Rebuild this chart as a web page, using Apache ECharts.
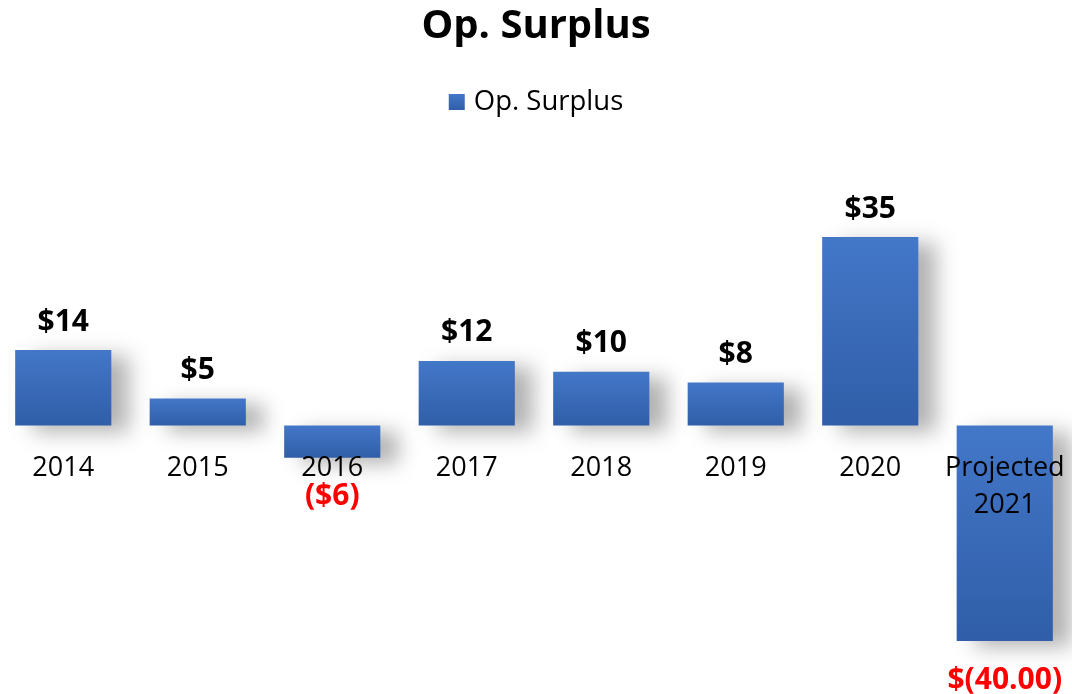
<!DOCTYPE html>
<html>
<head>
<meta charset="utf-8">
<script src="https://cdn.jsdelivr.net/npm/echarts@6/dist/echarts.min.js"></script>
<style>
html,body{margin:0;padding:0;background:#fff;}
#chart{width:1072px;height:694px;}
</style>
</head>
<body>
<div id="chart"></div>
<script>
var categories = ['2014', '2015', '2016', '2017', '2018', '2019', '2020', 'Projected\n2021'];
var values = [14, 5, -6, 12, 10, 8, 35, -40];
var valueLabels = ['$14', '$5', '($6)', '$12', '$10', '$8', '$35', '$(40.00)'];
var seriesName = 'Op. Surplus';
var yMin = -40, yMax = 35;

var chart = echarts.init(document.getElementById('chart'));
var fontFam = '"Open Sans", "Noto Sans", sans-serif';
var barGrad = new echarts.graphic.LinearGradient(0, 0, 0, 1, [
  {offset: 0, color: '#4377C8'},
  {offset: 1, color: '#305EA8'}
]);
chart.setOption({
  animation: false,
  title: {
    text: 'Op. Surplus',
    left: 'center',
    top: 2,
    padding: [5, 12, 5, 0],
    textStyle: {fontFamily: fontFam, fontSize: 40, fontWeight: 'bold', color: '#000'}
  },
  legend: {
    data: [seriesName],
    left: 'center',
    top: 83,
    itemWidth: 16,
    itemHeight: 16,
    icon: 'rect',
    itemGap: 8,
    textStyle: {fontFamily: fontFam, fontSize: 27.5, color: '#000', padding: [0, 0, 0, 4]}
  },
  grid: {left: -4, right: 0, top: 237, bottom: 53, containLabel: false, outerBoundsMode: 'none'},
  xAxis: {
    type: 'category',
    data: categories,
    z: 10,
    position: 'bottom',
    offset: 0,
    axisLine: {show: false, onZero: false},
    axisTick: {show: false},
    axisLabel: {
      fontFamily: fontFam, fontSize: 27, color: '#000',
      lineHeight: 37, margin: 24, interval: 0
    }
  },
  yAxis: {
    type: 'value',
    min: yMin,
    max: yMax,
    axisLine: {show: false},
    axisTick: {show: false},
    axisLabel: {show: false},
    splitLine: {show: false}
  },
  series: [{
    name: seriesName,
    type: 'bar',
    barWidth: '71.5%',
    itemStyle: {
      color: barGrad,
      shadowColor: 'rgba(0,0,0,0.3)',
      shadowBlur: 20,
      shadowOffsetX: 18,
      shadowOffsetY: 6
    },
    data: values.map(function (v, i) {
      return {
        value: v,
        label: {
          show: true,
          position: v >= 0 ? 'top' : 'bottom',
          distance: v >= 0 ? 13 : 24,
          formatter: valueLabels[i],
          fontFamily: fontFam,
          fontWeight: 'bold',
          fontSize: 30,
          color: v >= 0 ? '#000' : '#FF0000'
        }
      };
    })
  }]
});
// place the category axis on the zero line, using the library's own scale
var zeroY = chart.convertToPixel({yAxisIndex: 0}, 0);
var bottomY = chart.convertToPixel({yAxisIndex: 0}, yMin);
chart.setOption({xAxis: {offset: zeroY - bottomY}});
</script>
</body>
</html>
